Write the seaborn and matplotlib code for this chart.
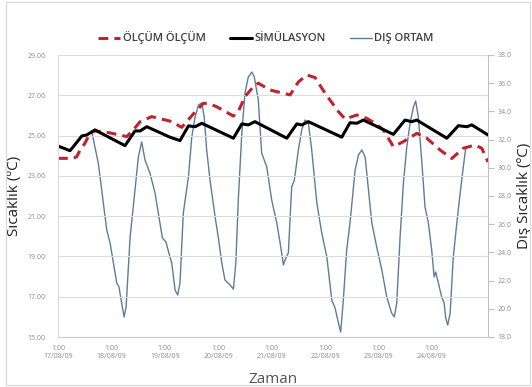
import matplotlib
matplotlib.use("Agg")
import matplotlib.pyplot as plt
from matplotlib.patches import Rectangle
import seaborn as sns
import pandas as pd

# Measured indoor temperature (left axis, °C) at hours since 17/08/09 01:00
olcum_saat = [0, 3.9, 6.9, 8.4, 9.9, 12.1, 14.4, 16.6, 22.6, 30.9, 33.8, 36.9, 42.1, 50.3,
              55.6, 60.8, 65.3, 67.5, 71.3, 78.8, 81.0, 84.0, 87.8, 90.0, 95.3, 104.3,
              108.0, 111.8, 115.5, 120.0, 126.0, 129.0, 134.2, 138.7, 142.5, 146.2,
              150.7, 155.2, 161.2, 165.7, 171.7, 176.9, 182.1, 187.4, 190.4, 193.2]
olcum = [23.87, 23.87, 23.87, 23.95, 24.28, 24.62, 25.13, 25.23, 25.15, 24.95, 25.28, 25.69,
         25.94, 25.72, 25.41, 26.07, 26.60, 26.60, 26.43, 25.97, 26.19, 26.93, 27.43, 27.60,
         27.26, 27.02, 27.66, 28.01, 27.88, 27.10, 26.19, 25.82, 26.02, 25.86, 25.61, 25.28,
         24.45, 24.70, 25.11, 24.87, 24.28, 23.86, 24.37, 24.53, 24.37, 23.69]

# Simulated indoor temperature (left axis, °C)
sim_saat = [0, 5.4, 6.9, 10.7, 12.9, 16.6, 30.1, 34.6, 36.9, 39.9, 50.3, 54.8, 58.6, 61.6,
            64.6, 78.8, 82.6, 85.5, 88.5, 102.8, 107.3, 109.5, 112.5, 127.5, 131.2, 134.2,
            137.2, 150.7, 155.9, 158.9, 161.2, 174.7, 179.9, 183.7, 185.9, 193.2]
simulasyon = [24.48, 24.25, 24.45, 24.98, 25.03, 25.28, 24.50, 25.23, 25.23, 25.44, 24.92,
              24.75, 25.48, 25.44, 25.61, 24.87, 25.58, 25.53, 25.69, 24.87, 25.58, 25.53,
              25.69, 24.92, 25.64, 25.61, 25.77, 25.06, 25.77, 25.69, 25.77, 24.87, 25.49,
              25.44, 25.53, 25.03]

# Outdoor temperature (right axis, °C)
dis_saat = [15.1, 18.1, 18.9, 21.9, 23.4, 24.9, 26.4, 27.4, 28.6, 29.7, 30.6, 32.4, 34.6,
            36.1, 37.6, 39.1, 41.3, 43.6, 45.8, 46.9, 48.5, 50.3, 51.1, 52.6, 53.8, 54.8,
            56.3, 58.6, 60.1, 61.6, 63.1, 64.6, 65.7, 66.8, 68.3, 70.6, 72.0, 73.6, 75.0,
            77.3, 78.8, 79.9, 81.0, 82.6, 84.0, 85.5, 87.1, 88.2, 90.0, 91.5, 93.8, 96.0,
            98.3, 99.8, 101.3, 102.0, 103.5, 105.0, 106.2, 108.0, 109.5, 111.0, 112.5, 114.0,
            116.3, 118.5, 120.8, 123.0, 124.5, 126.0, 127.0, 128.2, 129.7, 131.2, 133.5,
            135.0, 136.5, 138.0, 139.5, 141.0, 143.2, 145.5, 147.7, 149.2, 149.9, 151.1,
            152.2, 153.7, 155.2, 156.7, 158.2, 159.7, 160.7, 161.9, 163.4, 164.9, 166.4,
            167.9, 169.0, 169.7, 170.9, 172.4, 173.5, 174.2, 175.1, 176.2, 177.6, 179.2,
            180.7, 182.1, 183.2]
dis_ortam = [32.60, 30.34, 29.35, 25.59, 24.67, 23.25, 21.83, 21.55, 20.41, 19.42, 20.13,
             25.09, 28.43, 30.77, 31.83, 30.55, 29.63, 28.21, 26.09, 25.02, 24.74, 23.67,
             23.25, 21.33, 20.98, 21.83, 26.79, 29.35, 32.18, 33.60, 34.45, 34.60, 33.60,
             31.26, 29.13, 26.51, 25.09, 23.25, 22.04, 21.69, 21.40, 23.25, 27.72, 32.47,
             35.30, 36.44, 36.79, 36.44, 34.81, 31.05, 30.06, 27.72, 26.09, 24.67, 23.11,
             23.46, 23.96, 28.64, 29.13, 31.26, 32.68, 33.39, 33.18, 31.26, 27.50, 25.38,
             23.67, 20.62, 20.06, 18.99, 18.35, 20.62, 24.17, 26.09, 29.84, 30.91, 31.26,
             30.77, 28.43, 26.09, 24.38, 22.75, 20.84, 20.06, 19.70, 19.42, 20.41, 25.09,
             28.92, 31.48, 33.18, 34.31, 34.74, 33.60, 30.55, 27.22, 26.09, 24.17, 22.26,
             22.61, 21.83, 20.84, 20.41, 19.35, 18.85, 19.70, 23.67, 26.09, 28.21, 30.06,
             31.40]

gun_saat = [0, 24, 48, 72, 96, 120, 144, 168]
gun_etiket = ["1:00\n17/08/09", "1:00\n18/08/09", "1:00\n19/08/09", "1:00\n20/08/09",
              "1:00\n21/08/09", "1:00\n22/08/09", "1:00\n23/08/09", "1:00\n24/08/09"]
sol_ticks = [15, 17, 19, 21, 23, 25, 27, 29]
sag_ticks = [18, 20, 22, 24, 26, 28, 30, 32, 34, 36, 38]

sns.set_style("white")
plt.rcParams["font.family"] = ["Open Sans", "DejaVu Sans"]

KIRMIZI = "#C0232D"
MAVI = "#5E7C9C"
GRI_YAZI = "#8C8C8C"
IZGARA = "#DCDCDC"

fig = plt.figure(figsize=(5.32, 3.87), dpi=100)
ax = fig.add_axes([58 / 532, 1 - 337 / 387, 430 / 532, 282 / 387])
ax2 = ax.twinx()

df_olcum = pd.DataFrame({"saat": olcum_saat, "deger": olcum})
df_sim = pd.DataFrame({"saat": sim_saat, "deger": simulasyon})
df_dis = pd.DataFrame({"saat": dis_saat, "deger": dis_ortam})

sns.lineplot(data=df_dis, x="saat", y="deger", ax=ax2, color=MAVI, lw=1.0,
             sort=False, label="DIŞ ORTAM", legend=False)
sns.lineplot(data=df_olcum, x="saat", y="deger", ax=ax, color=KIRMIZI, lw=2.2,
             sort=False, label="ÖLÇÜM ÖLÇÜM", legend=False)
ax.lines[-1].set_dashes((3.2, 2.0))
sns.lineplot(data=df_sim, x="saat", y="deger", ax=ax, color="black", lw=2.2,
             sort=False, label="SİMÜLASYON", legend=False)

# Outdoor series drawn behind indoor series
ax.set_zorder(ax2.get_zorder() + 1)
ax.patch.set_visible(False)

ax.set_xlim(0, 193.2)
ax.set_ylim(15, 29)
ax2.set_ylim(18, 38)
ax.set_yticks(sol_ticks)
ax.set_yticklabels([f"{v:.2f}" for v in sol_ticks])
ax2.set_yticks(sag_ticks)
ax2.set_yticklabels([f"{v:.1f}" for v in sag_ticks])
ax.set_xticks(gun_saat)
ax.set_xticklabels(gun_etiket)

for a in (ax, ax2):
    for s in a.spines.values():
        s.set_visible(False)
ax.spines["left"].set_visible(True)
ax.spines["left"].set_color(IZGARA)
ax.spines["bottom"].set_visible(True)
ax.spines["bottom"].set_color("#D0D0D0")
ax2.spines["right"].set_visible(True)
ax2.spines["right"].set_color("#BFBFBF")

ax.yaxis.grid(True, color=IZGARA, lw=0.8)
ax.set_axisbelow(True)
ax.tick_params(axis="y", length=0, labelsize=5, labelcolor=GRI_YAZI, pad=9)
ax.tick_params(axis="x", length=0, labelsize=5, labelcolor=GRI_YAZI, pad=6)
ax2.tick_params(axis="y", length=4, color="#BFBFBF", labelsize=5, labelcolor=GRI_YAZI, pad=3)

ax.set_xlabel("Zaman", fontsize=11, color="#555555")
ax.set_ylabel("Sıcaklık (ºC)", fontsize=11, color="#222222")
ax2.set_ylabel("Dış Sıcaklık (ºC)", fontsize=11, color="#222222")
ax.xaxis.set_label_coords(0.5, -0.125)
ax.yaxis.set_label_coords(-0.083, 0.5)
ax2.yaxis.set_label_coords(1.068, 0.5)

h1, l1 = ax.get_legend_handles_labels()
h2, l2 = ax2.get_legend_handles_labels()
leg = fig.legend(h1 + h2, l1 + l2, loc="center", bbox_to_anchor=(0.5, 1 - 38 / 387),
                 ncol=3, frameon=False, fontsize=8, handlelength=2.0,
                 columnspacing=2.2, handletextpad=0.2)
for t in leg.get_texts():
    t.set_color("#404040")
    t.set_fontweight("semibold")

fig.patches.append(Rectangle((6 / 532, 2 / 387), 524 / 532, 383 / 387,
                             transform=fig.transFigure, fill=False,
                             edgecolor="#D9D9D9", lw=0.8))

fig.savefig("out.png", dpi=100)
